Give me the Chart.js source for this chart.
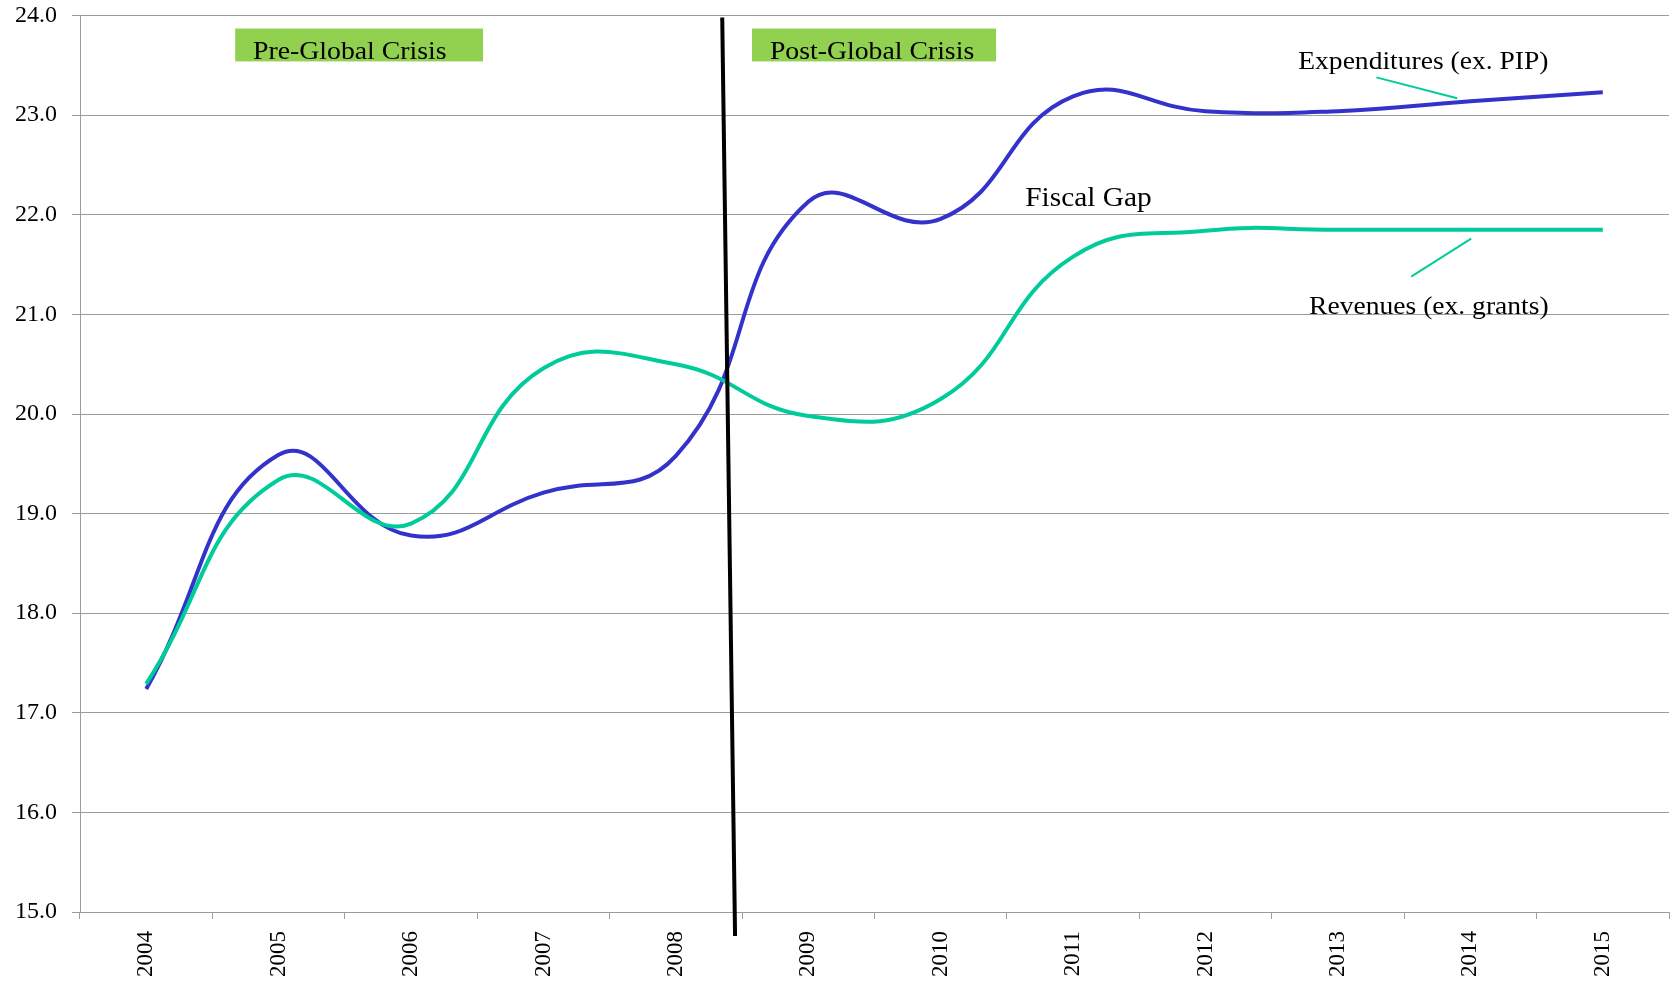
<!DOCTYPE html>
<html>
<head>
<meta charset="utf-8">
<title>Fiscal Gap</title>
<script src="https://cdn.jsdelivr.net/npm/chart.js@4/dist/chart.umd.min.js"></script>
<style>
  html, body { margin: 0; padding: 0; background: #fff; overflow: hidden; }
</style>
</head>
<body>
<canvas id="gapChart" width="1677" height="983"></canvas>
<script>
// Series, % of GDP
const years = ['2004', '2005', '2006', '2007', '2008', '2009', '2010', '2011', '2012', '2013', '2014', '2015'];
const expenditures = [17.24, 19.59, 18.78, 19.21, 19.58, 22.13, 21.96, 23.19, 23.04, 23.04, 23.14, 23.23];
const revenues = [17.29, 19.34, 18.90, 20.46, 20.50, 19.98, 20.15, 21.58, 21.84, 21.85, 21.85, 21.85];
const yMin = 15;
const yMax = 24;

// Notes placed in data units (category index, value)
const periodBoxes = [
  { text: 'Pre-Global Crisis', from: 0.672, to: 2.544, textAt: 0.807 },
  { text: 'Post-Global Crisis', from: 4.575, to: 6.418, textAt: 4.71 }
];
const boxTop = 23.87;
const boxBottom = 23.54;
const crisisLine = { x1: 4.35, y1: 23.98, x2: 4.447, y2: 14.76 };
const seriesNotes = [
  { text: 'Expenditures (ex. PIP)', x: 8.70, y: 23.46, leader: [9.29, 23.38, 9.90, 23.17] },
  { text: 'Revenues (ex. grants)', x: 8.782, y: 21.0, leader: [9.553, 21.38, 10.006, 21.76] }
];
const gapNote = { text: 'Fiscal Gap', x: 6.638, y: 22.09 };

const SERIF = '"Liberation Serif", "Times New Roman", serif';
const GRID = '#9c9c9c';
const LEADER = '#00CC99';

function stretchedText(ctx, text, x, y, size, sx) {
  ctx.save();
  ctx.translate(x, y);
  ctx.scale(sx, 1);
  ctx.font = size + 'px ' + SERIF;
  ctx.fillStyle = '#000';
  ctx.textBaseline = 'alphabetic';
  ctx.textAlign = 'left';
  ctx.fillText(text, 0, 0);
  ctx.restore();
}

const notesPlugin = {
  id: 'gapNotes',
  afterDatasetsDraw(chart) {
    const { ctx, scales: { x, y } } = chart;
    const px = i => x.getPixelForValue(i);
    const py = v => y.getPixelForValue(v);
    ctx.save();

    periodBoxes.forEach(b => {
      ctx.fillStyle = '#92D050';
      ctx.fillRect(px(b.from), py(boxTop), px(b.to) - px(b.from), py(boxBottom) - py(boxTop));
      stretchedText(ctx, b.text, px(b.textAt), py(boxBottom) - 2, 25, 1.11);
    });

    // crisis divider
    ctx.strokeStyle = '#000';
    ctx.lineWidth = 4;
    ctx.beginPath();
    ctx.moveTo(px(crisisLine.x1), py(crisisLine.y1));
    ctx.lineTo(px(crisisLine.x2), py(crisisLine.y2));
    ctx.stroke();

    seriesNotes.forEach(n => {
      stretchedText(ctx, n.text, px(n.x), py(n.y), 26, 1.06);
      const [a, b, c, d] = n.leader;
      ctx.strokeStyle = LEADER;
      ctx.lineWidth = 2;
      ctx.beginPath();
      ctx.moveTo(px(a), py(b));
      ctx.lineTo(px(c), py(d));
      ctx.stroke();
    });

    stretchedText(ctx, gapNote.text, px(gapNote.x), py(gapNote.y), 28, 1.05);
    ctx.restore();
  }
};

new Chart(document.getElementById('gapChart'), {
  type: 'line',
  data: {
    labels: years,
    datasets: [{
      label: 'Revenues (ex. grants)',
      data: revenues,
      borderColor: '#00CC99',
      borderWidth: 4,
      tension: 0.45,
      pointRadius: 0,
      fill: false
    }, {
      label: 'Expenditures (ex. PIP)',
      data: expenditures,
      borderColor: '#3333CC',
      borderWidth: 4,
      tension: 0.45,
      pointRadius: 0,
      fill: false
    }]
  },
  options: {
    responsive: false,
    animation: false,
    devicePixelRatio: 1,
    layout: { padding: { top: 0, right: 8, left: 0, bottom: 0 } },
    plugins: {
      legend: { display: false },
      tooltip: { enabled: false }
    },
    scales: {
      x: {
        offset: true,
        grid: {
          offset: true,
          drawOnChartArea: false,
          drawTicks: true,
          tickLength: 7,
          color: GRID
        },
        border: { color: GRID, width: 1 },
        ticks: {
          minRotation: 90,
          maxRotation: 90,
          padding: 12,
          color: '#000',
          font: { family: SERIF, size: 23 }
        },
        afterFit: scale => { scale.height = 71; }
      },
      y: {
        min: yMin,
        max: yMax,
        grid: { color: GRID, tickLength: 8 },
        border: { color: GRID, width: 1 },
        ticks: {
          stepSize: 1,
          padding: 15,
          color: '#000',
          // tiny line height keeps the top label from pushing the plot down
          font: { family: SERIF, size: 24, lineHeight: 0.05 },
          callback: v => Number(v).toFixed(1)
        },
        afterFit: scale => { scale.width = 80; }
      }
    }
  },
  plugins: [notesPlugin]
});
</script>
</body>
</html>
